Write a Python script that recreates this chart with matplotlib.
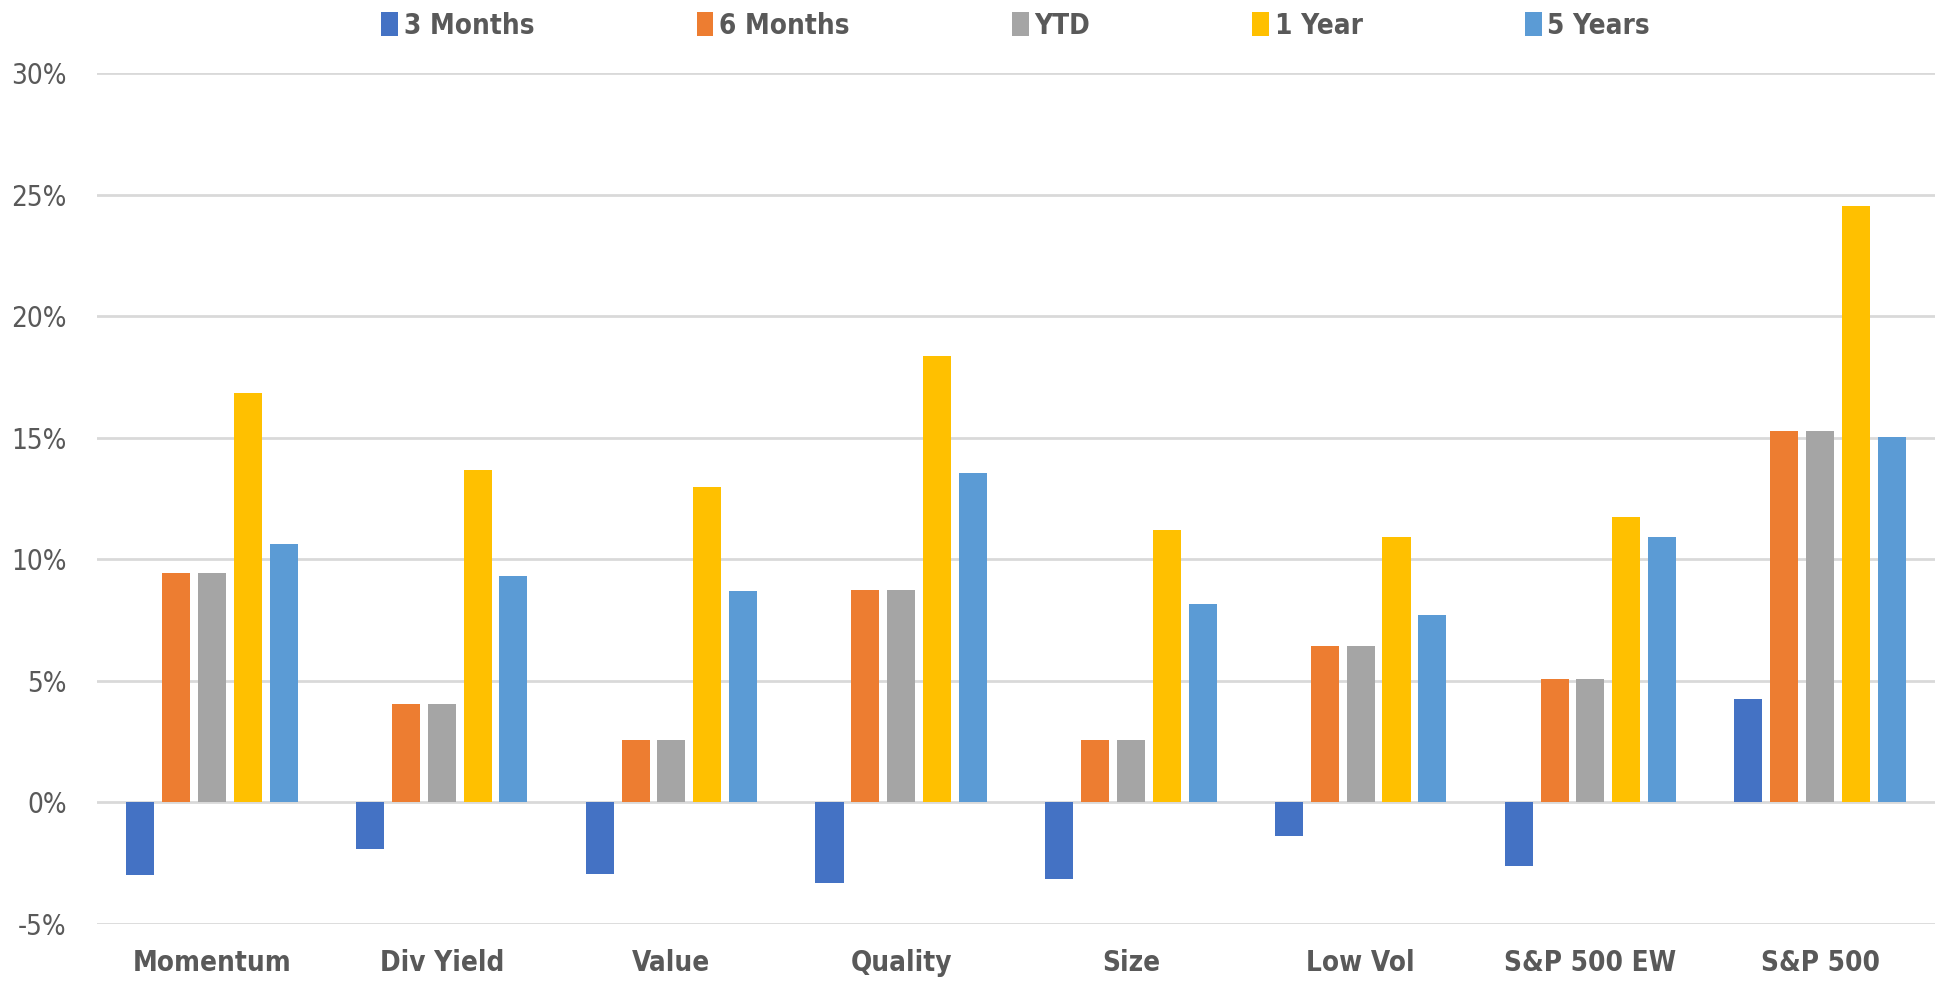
import numpy as np
import matplotlib.pyplot as plt
from matplotlib.ticker import FuncFormatter

categories = ["Momentum", "Div Yield", "Value", "Quality", "Size",
              "Low Vol", "S&P 500 EW", "S&P 500"]
series_names = ["3 Months", "6 Months", "YTD", "1 Year", "5 Years"]

ret_3m = [-3.0, -1.92, -2.96, -3.33, -3.15, -1.37, -2.63, 4.27]
ret_6m = [9.43, 4.03, 2.58, 8.72, 2.58, 6.42, 5.07, 15.29]
ret_ytd = [9.43, 4.03, 2.58, 8.72, 2.58, 6.42, 5.07, 15.29]
ret_1y = [16.83, 13.67, 12.98, 18.37, 11.22, 10.9, 11.76, 24.54]
ret_5y = [10.62, 9.32, 8.69, 13.54, 8.17, 7.73, 10.92, 15.03]

colors = ["#4472C4", "#ED7D31", "#A5A5A5", "#FFC000", "#5B9BD5"]
text_color = "#595959"

plt.rcParams['font.family'] = ['DejaVu Sans']
plt.rcParams['font.stretch'] = 'condensed'

fig = plt.figure(figsize=(19.42, 9.82), dpi=100)
ax = fig.add_axes([0.05, 0.059, 0.9464, 0.8667])

x = np.arange(len(categories))
pitch = 0.156
width = 0.122
all_series = [ret_3m, ret_6m, ret_ytd, ret_1y, ret_5y]
for i, (vals, name) in enumerate(zip(all_series, series_names)):
    ax.bar(x + (i - 2) * pitch, vals, width, color=colors[i], label=name,
           zorder=3)

ax.set_xlim(-0.5, len(categories) - 0.5)
ax.set_ylim(-5, 30)
ax.set_yticks(np.arange(-5, 31, 5))
ax.yaxis.set_major_formatter(FuncFormatter(lambda v, p: f"{v:.0f}%"))
ax.set_xticks(x)
ax.set_xticklabels(categories, fontsize=20, fontweight='bold', color=text_color)
ax.tick_params(axis='y', labelsize=20, labelcolor=text_color, length=0, pad=22)
ax.tick_params(axis='x', length=0, pad=18)

ax.grid(axis='y', color='#D9D9D9', linewidth=2, zorder=0)
for s in ax.spines.values():
    s.set_visible(False)

# legend sits centred over the plot area, not the whole figure
leg = fig.legend(loc='center', bbox_to_anchor=(0.523, 0.974), ncol=5,
                 frameon=False, handlelength=0.6, handleheight=0.95,
                 handletextpad=0.2, columnspacing=5.85,
                 prop={'size': 20, 'weight': 'bold', 'stretch': 'condensed'})
for t in leg.get_texts():
    t.set_color(text_color)

fig.savefig("out.png", dpi=100, facecolor='white')
